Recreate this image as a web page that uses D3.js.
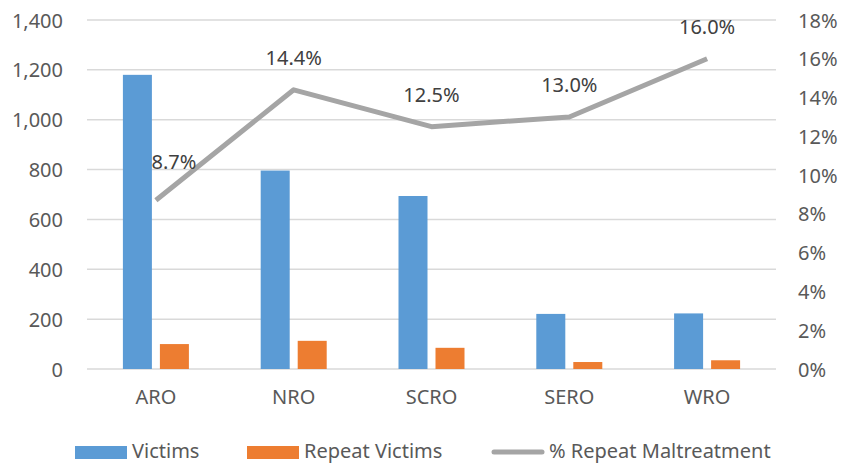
<!DOCTYPE html>
<html>
<head>
<meta charset="utf-8">
<script src="https://cdn.jsdelivr.net/npm/d3@7"></script>
<style>
  body { margin: 0; background: #fff; }
  svg text { font-family: "Noto Sans", sans-serif; fill: #595959; }
</style>
</head>
<body>
<div id="chart"></div>
<script>
// data
var regions = ["ARO", "NRO", "SCRO", "SERO", "WRO"];
var victims = [1180, 796, 694, 221, 223];
var repeatVictims = [100, 113, 85, 28, 35];
var repeatPct = [8.7, 14.4, 12.5, 13.0, 16.0];
var leftTicks = [0, 200, 400, 600, 800, 1000, 1200, 1400];
var rightTicks = [0, 2, 4, 6, 8, 10, 12, 14, 16, 18];

var svgWidth = 844;
var svgHeight = 464;
var margin = {top: 20, right: 68, bottom: 95, left: 87};
var width = svgWidth - margin.left - margin.right;
var height = svgHeight - margin.top - margin.bottom;

var blue = "#5b9bd5", orange = "#ed7d31", grey = "#a5a5a5";

var svg = d3.select("#chart").append("svg")
  .attr("width", svgWidth)
  .attr("height", svgHeight);

var g = svg.append("g")
  .attr("transform", "translate(" + margin.left + "," + margin.top + ")");

var x = d3.scaleBand().domain(regions).range([0, width]);
var yLeft = d3.scaleLinear().domain([0, 1400]).range([height, 0]);
var yRight = d3.scaleLinear().domain([0, 18]).range([height, 0]);

// gridlines
g.selectAll(".grid").data(leftTicks).enter().append("line")
  .attr("x1", 0).attr("x2", width)
  .attr("y1", function(d) { return yLeft(d); })
  .attr("y2", function(d) { return yLeft(d); })
  .attr("stroke", "#d9d9d9").attr("stroke-width", 1.5);

// left axis
var gL = g.append("g")
  .call(d3.axisLeft(yLeft).tickValues(leftTicks).tickSize(0).tickPadding(24).tickFormat(d3.format(",")));
gL.select(".domain").remove();
gL.selectAll("text").style("font-size", "20px").attr("dy", "0.35em");

// right axis
var gR = g.append("g")
  .attr("transform", "translate(" + width + ",0)")
  .call(d3.axisRight(yRight).tickValues(rightTicks).tickSize(0).tickPadding(22).tickFormat(function(d) { return d + "%"; }));
gR.select(".domain").remove();
gR.selectAll("text").style("font-size", "20px").attr("dy", "0.35em");

// bottom axis
var gX = g.append("g")
  .attr("transform", "translate(0," + height + ")")
  .call(d3.axisBottom(x).tickSize(0).tickPadding(21));
gX.select(".domain").remove();
gX.selectAll("text").style("font-size", "20px");

// bars
var barW = 29, gap = 8;
g.selectAll(".victims").data(victims).enter().append("rect")
  .attr("x", function(d, i) { return x(regions[i]) + x.bandwidth() / 2 - gap / 2 - barW; })
  .attr("y", function(d) { return yLeft(d); })
  .attr("width", barW)
  .attr("height", function(d) { return height - yLeft(d); })
  .attr("fill", blue);

g.selectAll(".repeat").data(repeatVictims).enter().append("rect")
  .attr("x", function(d, i) { return x(regions[i]) + x.bandwidth() / 2 + gap / 2; })
  .attr("y", function(d) { return yLeft(d); })
  .attr("width", barW)
  .attr("height", function(d) { return height - yLeft(d); })
  .attr("fill", orange);

// line
var line = d3.line()
  .x(function(d, i) { return x(regions[i]) + x.bandwidth() / 2; })
  .y(function(d) { return yRight(d); });

g.append("path")
  .datum(repeatPct)
  .attr("d", line)
  .attr("fill", "none")
  .attr("stroke", grey)
  .attr("stroke-width", 5)
  .attr("stroke-linejoin", "round");

g.selectAll(".pctLabel").data(repeatPct).enter().append("text")
  .attr("x", function(d, i) { return x(regions[i]) + x.bandwidth() / 2 + (i == 0 ? 18 : 0); })
  .attr("y", function(d, i) { return yRight(d) - (i == 0 ? 31 : 25); })
  .attr("text-anchor", "middle")
  .style("font-size", "20px")
  .style("fill", "#404040")
  .text(function(d) { return d.toFixed(1) + "%"; });

// legend
var legend = svg.append("g").attr("transform", "translate(0,452)");
var items = [
  {name: "Victims", color: blue, type: "rect", x: 75},
  {name: "Repeat Victims", color: orange, type: "rect", x: 247},
  {name: "% Repeat Maltreatment", color: grey, type: "line", x: 492}
];
items.forEach(function(it) {
  if (it.type == "rect") {
    legend.append("rect").attr("x", it.x).attr("y", -6).attr("width", 52).attr("height", 13).attr("fill", it.color);
  } else {
    legend.append("line").attr("x1", it.x + 2).attr("x2", it.x + 50).attr("y1", 0).attr("y2", 0)
      .attr("stroke", it.color).attr("stroke-width", 5).attr("stroke-linecap", "round");
  }
  legend.append("text").attr("x", it.x + 57).attr("y", 0).attr("dy", "0.32em")
    .style("font-size", "20px").text(it.name);
});
</script>
</body>
</html>
